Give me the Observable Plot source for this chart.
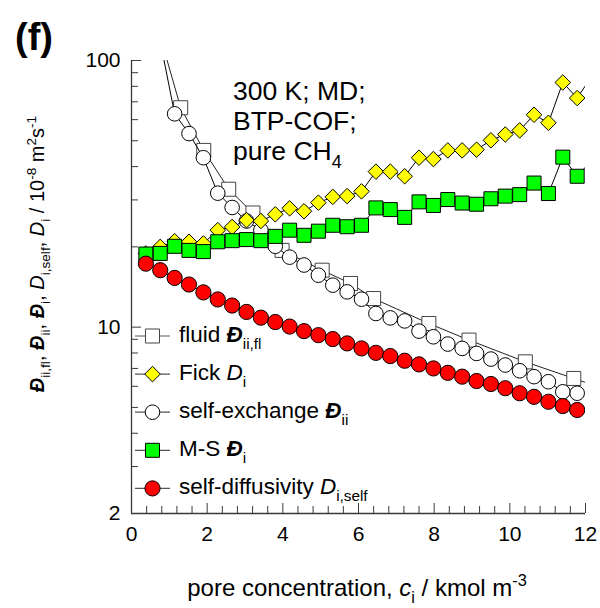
<!DOCTYPE html>
<html>
<head>
<meta charset="utf-8">
<script src="https://cdn.jsdelivr.net/npm/d3@7"></script>
<script src="https://cdn.jsdelivr.net/npm/@observablehq/plot@0.6"></script>
<style>
  body { margin: 0; background: #fff; }
  #chart { width: 600px; height: 608px; }
  #chart svg { display: block; }
</style>
</head>
<body>
<div id="chart"></div>
<script>
// Pore concentration of CH4 in BTP-COF, kmol m^-3 (MD loadings)
const conc = [0.38, 0.76, 1.14, 1.52, 1.90, 2.28, 2.66, 3.04, 3.42, 3.80,
              4.18, 4.56, 4.94, 5.32, 5.70, 6.08, 6.46, 6.84, 7.22, 7.60,
              7.98, 8.36, 8.74, 9.12, 9.50, 9.88, 10.26, 10.64, 11.02, 11.40,
              11.78, 12.16];

// Self-diffusivity D_i,self (10^-8 m^2/s)
const selfDiffusivity = [17.3, 16.35, 15.3, 14.45, 13.5, 12.7, 12.05, 11.4, 10.85, 10.45,
                         10.05, 9.66, 9.33, 9.02, 8.69, 8.32, 8.01, 7.79, 7.48, 7.25,
                         7.00, 6.74, 6.52, 6.28, 6.12, 5.90, 5.65, 5.48, 5.25, 5.06,
                         4.89, null];

// Self-exchange coefficient Đ_ii
const selfExchange = [null, 118, 63.1, 53.2, 43.2, 31.8, 28.1, 25.0, 23.1, 20.1,
                      18.3, 17.1, 15.66, 14.37, 13.56, 12.73, 11.25, 10.83, 10.55, 9.66,
                      9.20, 8.64, 8.32, 7.97, 7.59, 7.21, 6.86, 6.52, 6.24, 5.72,
                      5.65, null];

// Fick diffusivity D_i
const fick = [18.9, 20.0, 21.0, 20.9, 20.6, 23.1, 23.75, 25.2, 25.0, 26.5,
              27.9, 27.2, 29.3, 30.8, 31.0, 32.3, 38.3, 38.3, 36.8, 43.2,
              42.7, 46.0, 46.0, 46.3, 50.2, 52.8, 54.7, 62.6, 58.4, 82.7,
              72.3, 87.0];

// Maxwell-Stefan diffusivity Đ_i
const maxwellStefan = [18.8, 18.9, 20.1, 19.4, 19.2, 20.9, 21.1, 21.3, 21.1, 21.9,
                       23.1, 22.1, 22.9, 24.1, 23.8, 24.1, 28.0, 27.6, 25.8, 29.5,
                       28.6, 30.1, 29.2, 28.9, 30.3, 31.0, 31.4, 34.7, 31.7, 43.4,
                       36.8, 42.2];

// Fluid-phase self-diffusivity Đ_ii,fl, at its own concentrations
const fluidConc = [0.70, 1.30, 1.91, 2.57, 3.21, 3.98, 5.04, 5.79, 6.40, 7.86, 8.92, 10.41, 11.69, 13.0];
const fluidD    = [132, 66.5, 46.0, 32.9, 26.8, 19.4, 16.35, 14.58, 12.80, 10.32, 8.94, 7.41, 6.42, 5.55];

const xTickLabels = [0, 2, 4, 6, 8, 10, 12];
const yTickLabels = [2, 10, 100];

const rows = conc.map((c, i) => ({
  c,
  self: selfDiffusivity[i],
  exch: selfExchange[i],
  fick: fick[i],
  ms: maxwellStefan[i]
}));
const fluidRows = fluidConc.map((c, i) => ({c, d: fluidD[i]}));

const W = 600, H = 608;
const mL = 131, mR = 15, mT = 60, mB = 95;
const innerW = W - mL - mR, innerH = H - mT - mB;
const axisColor = "#3a3a3a";
const xDom = [0, 12], yDom = [2, 100];

// inward tick lengths expressed in scale units
const xLen = px => xDom[0] + (xDom[1] - xDom[0]) * px / innerW;
const yLen = px => yDom[0] * Math.pow(yDom[1] / yDom[0], px / innerH);

const xMajor = [0, 2, 4, 6, 8, 10, 12];
const xMinor = d3.range(0, 12.001, 0.4).map(v => +v.toFixed(1)).filter(v => Math.abs(v / 2 - Math.round(v / 2)) > 1e-6);
const yMajor = [10, 100];
const yMinor = [3, 4, 5, 6, 7, 8, 9, 20, 30, 40, 50, 60, 70, 80, 90];

const inWindow = d => d.c <= 12;

const plot = Plot.plot({
  width: W,
  height: H,
  marginLeft: mL,
  marginRight: mR,
  marginTop: mT,
  marginBottom: mB,
  style: {fontFamily: "'Liberation Sans', Arial, sans-serif", fontSize: "21px", color: "#000", background: "#fff"},
  x: {domain: xDom, axis: null},
  y: {type: "log", domain: yDom, axis: null},
  marks: [
    // inward ticks
    Plot.ruleY(yMinor, {y: d => d, x1: xDom[0], x2: xLen(7), stroke: axisColor}),
    Plot.ruleY(yMajor, {y: d => d, x1: xDom[0], x2: xLen(10), stroke: axisColor}),
    Plot.ruleX(xMinor, {x: d => d, y1: yDom[0], y2: yLen(7), stroke: axisColor}),
    Plot.ruleX(xMajor, {x: d => d, y1: yDom[0], y2: yLen(10), stroke: axisColor}),
    Plot.ruleX([0], {stroke: axisColor, strokeWidth: 1.3}),
    Plot.ruleY([2], {stroke: axisColor, strokeWidth: 1.3}),
    // tick labels
    Plot.text(xTickLabels, {x: d => d, frameAnchor: "bottom", dy: 27, text: d => String(d), fontSize: 21}),
    Plot.text(yTickLabels, {y: d => d, frameAnchor: "left", dx: -11, textAnchor: "end", text: d => String(d), fontSize: 21}),

    // fluid Đ_ii,fl
    Plot.line(fluidRows, {x: "c", y: "d", stroke: "#222", strokeWidth: 1, clip: true}),
    Plot.dot(fluidRows, {x: "c", y: "d", symbol: "square", r: 7.9, fill: "#fff", stroke: "#444", strokeWidth: 1, clip: true}),
    // self-exchange Đ_ii
    Plot.line(rows, {x: "c", y: "exch", stroke: "#000", strokeWidth: 1, clip: true}),
    Plot.dot(rows, {x: "c", y: "exch", filter: inWindow, r: 7.3, fill: "#fff", stroke: "#000", strokeWidth: 1, clip: true}),
    // Fick D_i
    Plot.line(rows, {x: "c", y: "fick", stroke: "#000", strokeWidth: 1, clip: true}),
    Plot.dot(rows, {x: "c", y: "fick", filter: inWindow, symbol: "diamond2", r: 7, fill: "#ffff00", stroke: "#000", strokeWidth: 1, clip: true}),
    // M-S Đ_i
    Plot.line(rows, {x: "c", y: "ms", stroke: "#000", strokeWidth: 1, clip: true}),
    Plot.dot(rows, {x: "c", y: "ms", filter: inWindow, symbol: "square", r: 7.9, fill: "#00ff00", stroke: "#000", strokeWidth: 1, clip: true}),
    // self-diffusivity D_i,self
    Plot.line(rows, {x: "c", y: "self", stroke: "#000", strokeWidth: 1, clip: true}),
    Plot.dot(rows, {x: "c", y: "self", filter: inWindow, r: 7.6, fill: "#ff0000", stroke: "#000", strokeWidth: 1, clip: true})
  ]
});

document.getElementById("chart").appendChild(plot);
const svg = d3.select(plot);

// Rich text with italic symbols, subscripts and superscripts
function rich(sel, parts, size) {
  let shift = 0;
  parts.forEach(p => {
    if (typeof p === "string") p = {t: p};
    const target = p.sub ? 0.3 * size : p.sup ? -0.42 * size : 0;
    const ts = sel.append("tspan").text(p.sub || p.sup || p.t);
    if (target !== shift) { ts.attr("dy", target - shift); shift = target; }
    if (p.sub || p.sup) ts.style("font-size", (0.68 * size) + "px");
    if (p.i) ts.style("font-style", "italic");
    if (p.b) ts.style("font-weight", "bold");
  });
}

const font = "'Liberation Sans', Arial, sans-serif";

// panel letter
svg.append("text").attr("x", 15).attr("y", 50).attr("text-anchor", "start")
  .style("font-family", font).style("font-size", "38px").style("font-weight", "bold")
  .text("(f)");

// y-axis title
const yTitle = svg.append("text")
  .attr("transform", "translate(44,254) rotate(-90)")
  .attr("text-anchor", "middle")
  .style("font-family", font).style("font-size", "20px");
rich(yTitle, [
  {t: "Đ", i: true, b: true}, {sub: "ii,fl"}, ", ",
  {t: "Đ", i: true, b: true}, {sub: "ii"}, ", ",
  {t: "Đ", i: true, b: true}, {sub: "i"}, ", ",
  {t: "D", i: true}, {sub: "i,self"}, ", ",
  {t: "D", i: true}, {sub: "i"}, " / 10", {sup: "-8"}, " m", {sup: "2"}, "s", {sup: "-1"}
], 20);

// x-axis title
const xTitle = svg.append("text")
  .attr("x", 357).attr("y", 596)
  .attr("text-anchor", "middle")
  .style("font-family", font).style("font-size", "24px");
rich(xTitle, [
  "pore concentration, ", {t: "c", i: true}, {sub: "i"}, " / kmol m", {sup: "-3"}
], 24);

// condition annotation
const note = [["300 K; MD;"], ["BTP-COF;"], ["pure CH", {sub: "4"}]];
note.forEach((parts, i) => {
  const t = svg.append("text").attr("x", 233).attr("y", 100 + i * 30)
    .attr("text-anchor", "start")
    .style("font-family", font).style("font-size", "26.5px");
  rich(t, parts, 26.5);
});

// legend
const legend = [
  {sym: d3.symbolSquare, r: 7.9, fill: "#fff", stroke: "#444",
   label: ["fluid ", {t: "Đ", i: true, b: true}, {sub: "ii,fl"}]},
  {sym: d3.symbolDiamond2, r: 7, fill: "#ffff00", stroke: "#000",
   label: ["Fick ", {t: "D", i: true}, {sub: "i"}]},
  {sym: d3.symbolCircle, r: 7.3, fill: "#fff", stroke: "#000",
   label: ["self-exchange ", {t: "Đ", i: true, b: true}, {sub: "ii"}]},
  {sym: d3.symbolSquare, r: 7.9, fill: "#00ff00", stroke: "#000",
   label: ["M-S ", {t: "Đ", i: true, b: true}, {sub: "i"}]},
  {sym: d3.symbolCircle, r: 7.6, fill: "#ff0000", stroke: "#000",
   label: ["self-diffusivity ", {t: "D", i: true}, {sub: "i,self"}]}
];
const lg = svg.append("g");
legend.forEach((e, i) => {
  const y = 336 + i * 38.1;
  lg.append("line").attr("x1", 135).attr("x2", 170).attr("y1", y).attr("y2", y)
    .attr("stroke", "#555").attr("stroke-width", 1.2);
  lg.append("path").attr("transform", `translate(152.5,${y})`)
    .attr("d", d3.symbol(e.sym, Math.PI * e.r * e.r)())
    .attr("fill", e.fill).attr("stroke", e.stroke).attr("stroke-width", 1);
  const t = lg.append("text").attr("x", 179).attr("y", y + 6)
    .attr("text-anchor", "start")
    .style("font-family", font).style("font-size", "22.5px");
  rich(t, e.label, 22.5);
});
</script>
</body>
</html>
